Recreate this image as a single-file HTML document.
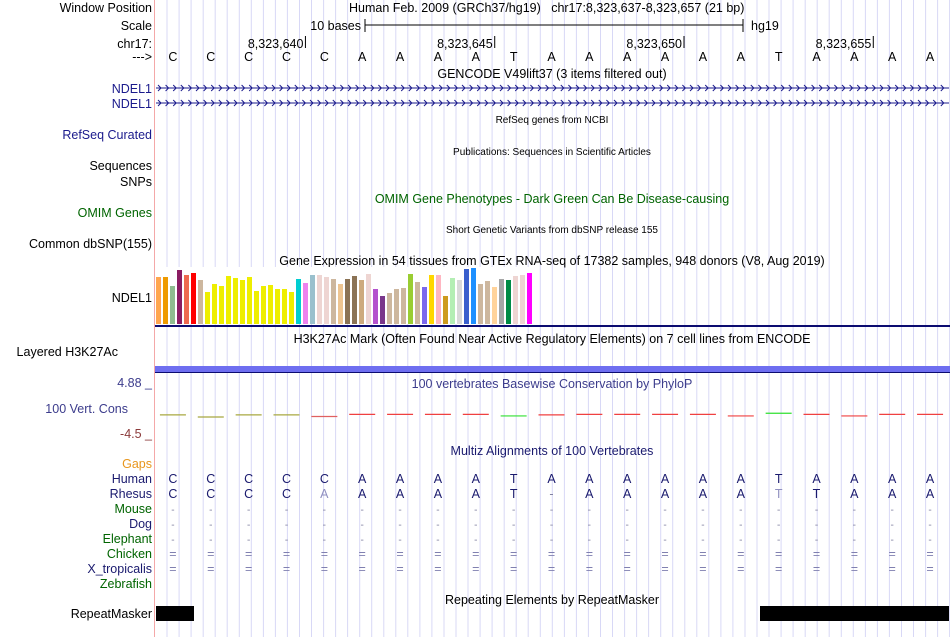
<!DOCTYPE html>
<html><head><meta charset="utf-8"><style>
html,body{margin:0;padding:0;background:#fff;}
svg{display:block;font-family:"Liberation Sans",Arial,sans-serif;}
</style></head><body>
<svg id="main" width="950" height="637" viewBox="0 0 950 637">
<g id="grid"></g>
<line x1="154.5" y1="0" x2="154.5" y2="637" stroke="#f4a8a8" stroke-width="1"/>
<g font-size="12.5" text-anchor="end">
<text x="152" y="12" fill="#000">Window Position</text>
<text x="152" y="30" fill="#000">Scale</text>
<text x="152" y="48" fill="#000">chr17:</text>
<text x="152" y="61" fill="#000">---&gt;</text>
<text x="152" y="93" fill="#1a1a8c">NDEL1</text>
<text x="152" y="108" fill="#1a1a8c">NDEL1</text>
<text x="152" y="139" fill="#1a1a8c">RefSeq Curated</text>
<text x="152" y="170" fill="#000">Sequences</text>
<text x="152" y="186" fill="#000">SNPs</text>
<text x="152" y="217" fill="#006400">OMIM Genes</text>
<text x="152" y="248" fill="#000">Common dbSNP(155)</text>
<text x="152" y="302" fill="#000">NDEL1</text>
<text x="118" y="356" fill="#000">Layered H3K27Ac</text>
<text x="128" y="413" fill="#3c3c8c">100 Vert. Cons</text>
<text x="152" y="387" fill="#3c3c8c">4.88 _</text>
<text x="152" y="438" fill="#8b3a3a">-4.5 _</text>
<text x="152" y="468" fill="#e8961e">Gaps</text>
<text x="152" y="483" fill="#1a1a6e">Human</text>
<text x="152" y="498" fill="#1a1a6e">Rhesus</text>
<text x="152" y="513" fill="#006400">Mouse</text>
<text x="152" y="528" fill="#1a1a6e">Dog</text>
<text x="152" y="543" fill="#006400">Elephant</text>
<text x="152" y="558" fill="#006400">Chicken</text>
<text x="152" y="573" fill="#1a1a6e">X_tropicalis</text>
<text x="152" y="588" fill="#006400">Zebrafish</text>
<text x="152" y="618" fill="#000">RepeatMasker</text>
</g>
<g font-size="12.5">
<text x="349" y="12" fill="#000">Human Feb. 2009 (GRCh37/hg19)&#160;&#160;&#160;chr17:8,323,637-8,323,657 (21 bp)</text>
<text x="361" y="30" text-anchor="end">10 bases</text>
<line x1="365" y1="25" x2="743" y2="25" stroke="#000"/>
<line x1="365" y1="19" x2="365" y2="32" stroke="#000"/>
<line x1="743" y1="19" x2="743" y2="32" stroke="#000"/>
<text x="751" y="30">hg19</text>
</g>
<g id="coords" font-size="12.5" text-anchor="end"></g>
<g id="seq" font-size="12.5" text-anchor="middle"></g>
<g font-size="12.5" text-anchor="middle">
<text x="552" y="78">GENCODE V49lift37 (3 items filtered out)</text>
<text x="552" y="123" font-size="10">RefSeq genes from NCBI</text>
<text x="552" y="155" font-size="10">Publications: Sequences in Scientific Articles</text>
<text x="552" y="203" fill="#006400">OMIM Gene Phenotypes - Dark Green Can Be Disease-causing</text>
<text x="552" y="233" font-size="10">Short Genetic Variants from dbSNP release 155</text>
<text x="552" y="265">Gene Expression in 54 tissues from GTEx RNA-seq of 17382 samples, 948 donors (V8, Aug 2019)</text>
<text x="552" y="343">H3K27Ac Mark (Often Found Near Active Regulatory Elements) on 7 cell lines from ENCODE</text>
<text x="552" y="388" fill="#3c3c8c">100 vertebrates Basewise Conservation by PhyloP</text>
<text x="552" y="455" fill="#1a1a6e">Multiz Alignments of 100 Vertebrates</text>
<text x="552" y="604">Repeating Elements by RepeatMasker</text>
</g>
<g id="genes"></g>
<g id="gtex"></g>
<rect x="155" y="325" width="795" height="2" fill="#0c0c70"/>
<rect x="155" y="366" width="795" height="6" fill="#6e6ef0"/>
<rect x="155" y="372" width="795" height="1" fill="#0c0c70"/>
<g id="cons"></g>
<g id="aln" font-size="12.5" text-anchor="middle"></g>
<rect x="156" y="606" width="38" height="15" fill="#000"/>
<rect x="760" y="606" width="189" height="15" fill="#000"/>
</svg>
<script>
const NS='http://www.w3.org/2000/svg';
const bases=['C','C','C','C','C','A','A','A','A','T','A','A','A','A','A','A','T','A','A','A','A'];
const rhesus=['C','C','C','C','a','A','A','A','A','T','-','A','A','A','A','A','t','T','A','A','A'];
const tickLabels=['8,323,640','8,323,645','8,323,650','8,323,655'];
const tickBaseIdx=[3,8,13,18];
const gtexValues=[47,47,38,54,49,51,44,32,40,38,48,46,44,47,33,38,39,35,35,32,45,41,49,49,47,45,40,45,48,44,50,35,28,31,35,36,50,42,37,49,49,28,46,44,55,56,40,43,37,45,44,48,49,51];
const gtexColors=['#FFA54F','#EE9A00','#8FBC8F','#8B1C62','#EE6A50','#FF0000','#CDB79E','#EEEE00','#EEEE00','#EEEE00','#EEEE00','#EEEE00','#EEEE00','#EEEE00','#EEEE00','#EEEE00','#EEEE00','#EEEE00','#EEEE00','#EEEE00','#00CED1','#EE82EE','#9AC0CD','#EED5D2','#EED5D2','#CDB79E','#EEC591','#8B7355','#8B7355','#CDAA7D','#EED5D2','#B452CD','#7A378B','#CDB79E','#CDB79E','#CDB79E','#9ACD32','#CDB79E','#7B68EE','#FFD700','#FFB6C1','#CD9B1D','#B4EEB4','#D9D9D9','#3A5FCD','#1E90FF','#CDB79E','#CDB79E','#FFD39B','#A6A6A6','#008B45','#EED5D2','#EED5D2','#FF00FF'];
const consValues=[-1.1,-1.5,-1.1,-1.1,-1.4,-1.0,-1.0,-1.0,-1.0,-1.3,-1.1,-1.0,-1.0,-1.0,-1.0,-1.3,-0.8,-1.0,-1.3,-1.0,-1.0];
const consColors=['#a8a840','#a8a840','#a8a840','#a8a840','#e06060','#f04040','#f04040','#f04040','#f04040','#30e030','#f04040','#f04040','#f04040','#f04040','#f04040','#f04040','#30e030','#f04040','#f04040','#f04040','#f04040'];
const L=155,W=795,bw=W/21;
const bx=i=>L+bw*(i+0.5)-1;
const consY=v=>383+(4.88-v)*(50/9.38);
const gtexY=v=>324-v;
function el(tag,attrs,parent,text){const e=document.createElementNS(NS,tag);for(const k in attrs)e.setAttribute(k,attrs[k]);if(text!==undefined)e.textContent=text;parent.appendChild(e);return e;}
const grid=document.getElementById('grid');
for(let x=L+12.04;x<950;x+=12.04){const g=el('line',{x1:x.toFixed(1),y1:0,x2:x.toFixed(1),y2:637,stroke:'#d8d8f6','stroke-width':1},grid);

}
const coords=document.getElementById('coords');
tickLabels.forEach((t,k)=>{const x=bx(tickBaseIdx[k])+0.5*bw;
const tx=el('text',{x:x-2,y:48},coords,t);


const ln=el('line',{x1:x,y1:36,x2:x,y2:48,stroke:'#000'},coords);

});
const seq=document.getElementById('seq');
bases.forEach((b,i)=>{const t=el('text',{x:bx(i),y:61},seq,b);

});
const genes=document.getElementById('genes');
[88,103].forEach(y=>{const ln=el('line',{x1:L+1,y1:y,x2:949,y2:y,stroke:'#1a1a8c','stroke-width':1},genes);


let d='';for(let x=L+3;x<947;x+=7.6){d+=`M${x.toFixed(1)} ${y-3}L${(x+3).toFixed(1)} ${y}L${x.toFixed(1)} ${y+3}`;}
const p=el('path',{d:d,stroke:'#1a1a8c',fill:'none','stroke-width':1},genes);

});
const gtex=document.getElementById('gtex');
const gb=el('rect',{x:155,y:267,width:375,height:57,fill:'#fff'},gtex);


gtexValues.forEach((v,i)=>{const r=el('rect',{x:156+i*7,y:gtexY(v),width:5,height:v,fill:gtexColors[i]},gtex);

});
const cons=document.getElementById('cons');
consValues.forEach((v,i)=>{const y=consY(v);const l=el('line',{x1:bx(i)-13,y1:y,x2:bx(i)+13,y2:y,stroke:consColors[i],'stroke-width':1.2},cons);

});
const aln=document.getElementById('aln');
bases.forEach((b,i)=>{const x=bx(i);
const h=el('text',{x:x,y:483,fill:'#1a1a6e'},aln,b);


const r=rhesus[i];const grey=(r===r.toLowerCase()&&r!=='-');
const rt=el('text',{x:x,y:498,fill:grey?'#9090c0':(r==='-'?'#8080a0':'#1a1a6e')},aln,r.toUpperCase());


[513,528,543].forEach(y=>{const d=el('text',{x:x,y:y,fill:'#8080a0','font-size':'10'},aln,'-');

});
[558,573].forEach(y=>{const d=el('text',{x:x,y:y,fill:'#8080b0'},aln,'=');

});});
</script>
</body></html>
